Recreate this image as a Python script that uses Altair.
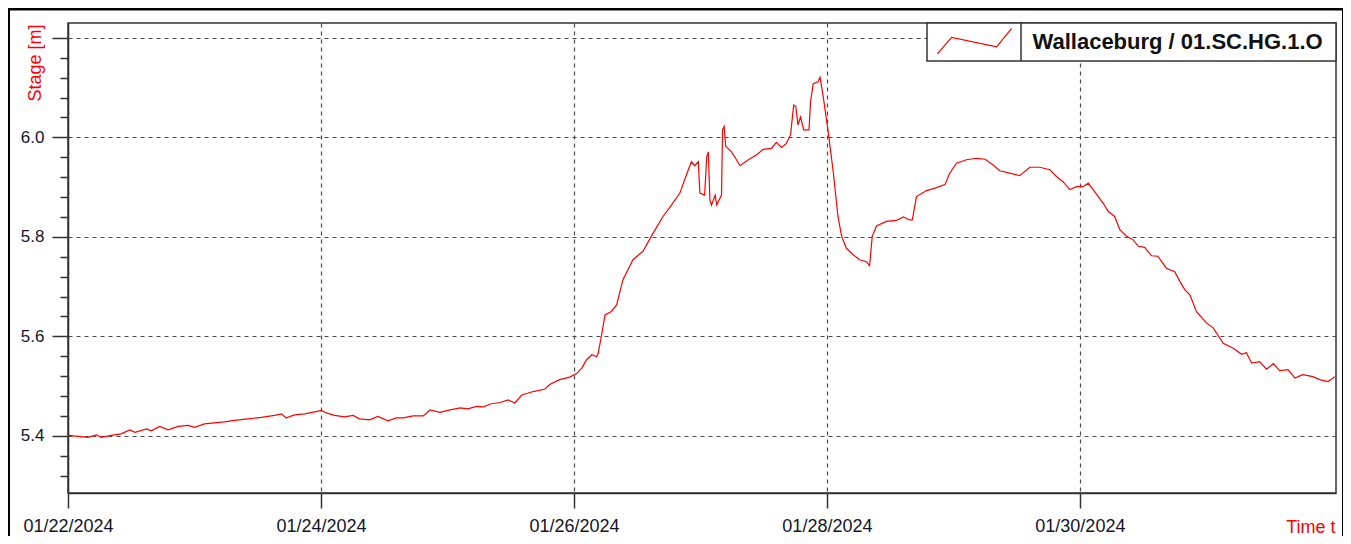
import json
import altair as alt
import pandas as pd

# ---- data (hours since 01/22/2024 00:00, stage in m) ----
hours = [
    0.0, 1.9, 3.8, 5.4, 6.3, 8.2, 10.1, 11.7, 12.7, 14.9,
    15.8, 17.4, 19.0, 20.9, 22.8, 24.0, 25.9, 27.8, 29.7, 31.6,
    34.1, 36.7, 39.2, 40.5, 41.4, 43.0, 44.9, 46.8, 48.1, 49.0,
    50.6, 52.5, 54.1, 55.3, 57.2, 58.8, 60.7, 62.3,
    63.6, 65.5, 67.4, 68.7, 70.6, 72.5, 74.4, 75.9, 77.5, 78.8,
    80.1, 82.0, 83.5, 84.8, 86.1, 88.3, 90.5, 91.4, 93.3, 95.2,
    96.5, 97.5, 98.4, 99.4, 100.3, 100.6, 101.3, 101.9, 103.1, 104.1,
    105.3, 107.2, 109.1, 111.0, 112.9, 114.5, 116.1, 117.7, 118.3, 118.9,
    119.6, 119.9, 120.8, 121.2, 121.5, 121.8, 122.1, 122.8, 123.1, 124.0,
    124.2, 124.5, 124.8, 125.9, 126.5, 127.5, 129.1, 130.7, 131.9, 133.5,
    134.4, 135.4, 136.3, 137.1, 137.7, 138.1, 138.5, 139.0, 139.6, 140.6,
    140.9, 141.4, 142.3, 142.7, 143.3, 144.2, 145.2, 146.1, 146.8,
    147.7, 149.0, 150.2, 151.5, 152.1, 152.6, 153.4, 155.3, 157.2, 158.5,
    159.7, 160.2, 161.0, 162.9, 164.5, 166.4, 167.3, 168.6, 170.5, 172.4,
    174.0, 175.5, 176.8, 178.7, 180.6, 182.5, 184.4, 186.3, 187.6, 188.8,
    190.1, 191.4, 192.6, 193.6, 194.8, 195.7,
    196.4, 197.4, 198.6, 199.6, 200.9, 202.1, 203.1, 204.3, 205.6, 206.8,
    208.4, 210.0, 211.0, 211.9, 212.9, 214.1, 216.0, 217.3, 219.2, 221.1,
    222.7, 223.6, 224.6, 226.1, 227.4, 228.7, 229.9, 231.5, 232.8, 234.3,
    236.2, 237.5, 239.1, 240.4,
]
stage = [
    5.401, 5.399, 5.397, 5.402, 5.397, 5.401, 5.404, 5.412, 5.407, 5.414,
    5.410, 5.419, 5.412, 5.419, 5.421, 5.417, 5.424, 5.426, 5.428, 5.431,
    5.434, 5.437, 5.441, 5.444, 5.436, 5.442, 5.444, 5.448, 5.451, 5.446,
    5.441, 5.438, 5.441, 5.434, 5.432, 5.439, 5.430, 5.436,
    5.436, 5.440, 5.440, 5.452, 5.447, 5.452, 5.456, 5.454, 5.459, 5.458,
    5.464, 5.467, 5.472, 5.466, 5.482, 5.489, 5.494, 5.503, 5.513, 5.518,
    5.525, 5.536, 5.553, 5.563, 5.559, 5.566, 5.606, 5.643, 5.650, 5.663,
    5.714, 5.754, 5.771, 5.807, 5.841, 5.864, 5.888, 5.935, 5.951, 5.943,
    5.951, 5.888, 5.884, 5.961, 5.971, 5.874, 5.864, 5.884, 5.864, 5.884,
    6.015, 6.022, 5.982, 5.971, 5.961, 5.943, 5.955, 5.965, 5.976, 5.978,
    5.990, 5.980, 5.988, 6.005, 6.065, 6.062, 6.025, 6.041, 6.015, 6.015,
    6.072, 6.108, 6.112, 6.121, 6.082, 6.015, 5.931, 5.841, 5.801,
    5.777, 5.764, 5.754, 5.750, 5.742, 5.801, 5.822, 5.831, 5.833, 5.840,
    5.834, 5.834, 5.881, 5.893, 5.898, 5.905, 5.928, 5.948, 5.955, 5.958,
    5.956, 5.945, 5.933, 5.928, 5.923, 5.940, 5.940, 5.935, 5.921, 5.911,
    5.895, 5.901, 5.901, 5.908, 5.891, 5.878,
    5.868, 5.851, 5.841, 5.814, 5.801, 5.794, 5.781, 5.779, 5.762, 5.761,
    5.737, 5.730, 5.710, 5.694, 5.683, 5.650, 5.627, 5.617, 5.586, 5.576,
    5.564, 5.567, 5.546, 5.549, 5.534, 5.545, 5.531, 5.533, 5.516, 5.523,
    5.519, 5.513, 5.509, 5.519,
]
series_name = ["Wallaceburg / 01.SC.HG.1.O"]
x_tick_hours = [0, 48, 96, 144, 192]
x_tick_labels = ["01/22/2024", "01/24/2024", "01/26/2024", "01/28/2024", "01/30/2024"]
y_tick_values = [round(5.32 + 0.04 * i, 2) for i in range(23)]

df = pd.DataFrame({"hours": hours, "stage": stage})
one = pd.DataFrame({"name": series_name})

FONT = "Liberation Sans"
AX = "#333333"
GRID = "#4a4a4a"
LBL = "#14142a"
major = "abs(datum.value*5 - round(datum.value*5)) < 0.001"

x_axis = alt.Axis(
    values=x_tick_hours,
    labelExpr=json.dumps(x_tick_labels) + "[round(datum.value/48)]",
    grid=True, gridDash=[4, 4], gridColor=GRID, gridWidth=1.2,
    tickSize=15, tickColor=AX, tickWidth=1.5,
    domainColor=AX, domainWidth=1.5,
    labelFont=FONT, labelFontSize=18, labelColor=LBL, labelPadding=9,
    labelFlush=False, labelOverlap=False,
    title="Time t", titleColor="#ff0000", titleFont=FONT, titleFontSize=18,
    titleFontWeight="normal", titleAlign="right", titleBaseline="alphabetic",
    titleX=1267, titleY=39,
)
y_axis = alt.Axis(
    values=y_tick_values,
    labelExpr=f"({major}) && datum.value < 6.1 ? format(datum.value, '.1f') : ''",
    grid=True, gridDash=[4, 4], gridColor=GRID, gridWidth=1.2,
    gridOpacity={"condition": {"test": major, "value": 1}, "value": 0},
    tickSize={"condition": {"test": major, "value": 16}, "value": 8},
    tickColor=AX, tickWidth=1.5,
    domainColor=AX, domainWidth=1.5,
    labelFont=FONT, labelFontSize=17, labelColor=LBL, labelPadding=8,
    labelOverlap=False, labelBaseline="middle",
    title="Stage [m]", titleColor="#ff0000", titleFont=FONT, titleFontSize=18,
    titleFontWeight="normal", titleAngle=270, titleAlign="right",
    titleBaseline="middle", titleX=-33, titleY=1,
)

line = alt.Chart(df).mark_line(color="#ff0000", strokeWidth=1.2).encode(
    x=alt.X("hours:Q", scale=alt.Scale(domain=[0, 240.6], nice=False, zero=False), axis=x_axis),
    y=alt.Y("stage:Q", scale=alt.Scale(domain=[5.285, 6.23], nice=False, zero=False), axis=y_axis),
)

legend_box = alt.Chart(one).mark_rect(fill="white", stroke=AX, strokeWidth=1.5).encode(
    x=alt.value(859), x2=alt.value(1268), y=alt.value(0), y2=alt.value(38)
)
legend_div = alt.Chart(one).mark_rule(color=AX, strokeWidth=1.5).encode(
    x=alt.value(953), y=alt.value(0), y2=alt.value(38)
)
legend_sym = alt.Chart(one).mark_point(
    shape="M -0.99 0.34 L -0.61 -0.1 L 0.59 0.15 L 0.99 -0.34",
    size=5625, filled=False, color="#ff0000", strokeWidth=1.2, opacity=1,
).encode(x=alt.value(906.5), y=alt.value(18.2))
legend_txt = alt.Chart(one).mark_text(
    align="left", baseline="alphabetic", font=FONT, fontSize=22,
    fontWeight="bold", color="#111111",
).encode(x=alt.value(964.5), y=alt.value(26.3), text="name:N")

frame = alt.Chart(one).mark_rect(fillOpacity=0, stroke="#000000", strokeWidth=5).encode(
    x=alt.value(-60.5), x2=alt.value(1276.5), y=alt.value(-15), y2=alt.value(525)
)

chart = (
    alt.layer(line, legend_box, legend_div, legend_sym, legend_txt, frame)
    .properties(
        width=1268, height=470,
        autosize=alt.AutoSizeParams(type="none"),
        padding={"left": 60, "top": 15, "right": 7, "bottom": 43},
        background="white",
    )
    .configure_view(stroke=AX, strokeWidth=1.5)
)

chart.save("out.html", embed_options={"renderer": "svg", "actions": False})
